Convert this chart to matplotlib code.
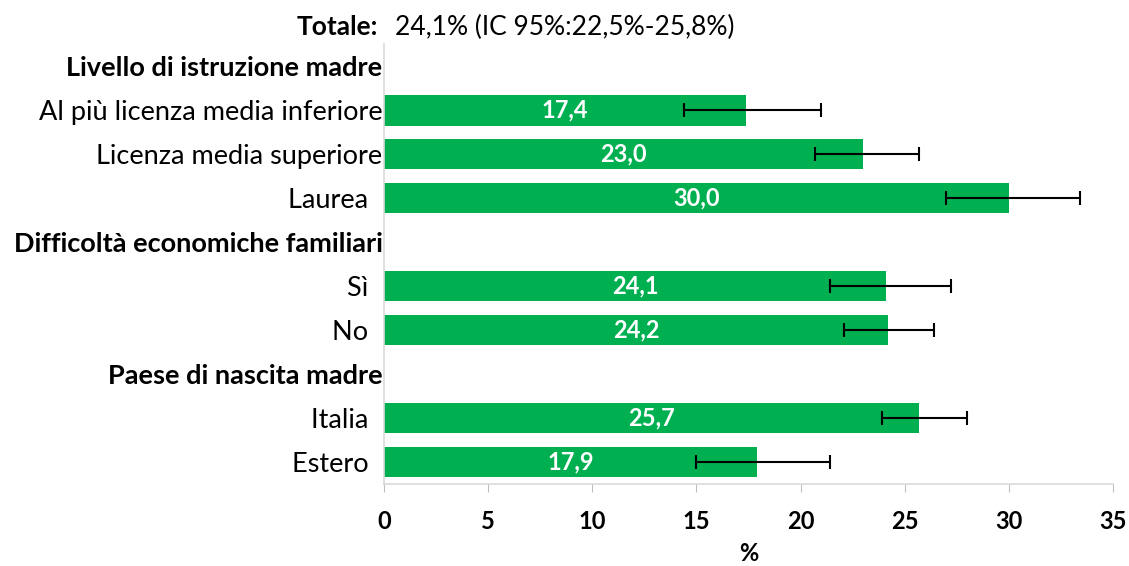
import matplotlib.pyplot as plt
import matplotlib.transforms as mtransforms
import numpy as np

# rows from top to bottom; None marks a group header row
labels = ["Livello di istruzione madre", "Al più licenza media inferiore", "Licenza media superiore", "Laurea  ",
          "Difficoltà economiche familiari", "Sì  ", "No  ",
          "Paese di nascita madre", "Italia  ", "Estero  "]
headers = [True, False, False, False, True, False, False, True, False, False]
values = [None, 17.4, 23.0, 30.0, None, 24.1, 24.2, None, 25.7, 17.9]
ci_low = [None, 14.4, 20.7, 27.0, None, 21.4, 22.1, None, 23.9, 15.0]
ci_high = [None, 21.0, 25.7, 33.4, None, 27.2, 26.4, None, 28.0, 21.4]
xticks = [0, 5, 10, 15, 20, 25, 30, 35]

plt.rcParams['font.family'] = ['Lato', 'DejaVu Sans']
green = '#00B050'

fig = plt.figure(figsize=(11.29, 5.66), dpi=100)
ax = fig.add_axes([0.340, 0.145, 0.646, 0.777])

n = len(labels)
y = np.arange(n)
for i in range(n):
    if values[i] is None:
        continue
    ax.barh(y[i], values[i], height=0.7, color=green, zorder=2)
    ax.errorbar(values[i], y[i],
                xerr=[[values[i] - ci_low[i]], [ci_high[i] - values[i]]],
                fmt='none', ecolor='black', elinewidth=1.5, capsize=5, capthick=1.5, zorder=3)
    ax.text(values[i] / 2, y[i], f"{values[i]:.1f}".replace('.', ','), color='white',
            fontsize=17, fontweight='bold', ha='center', va='center', zorder=4)

ax.set_ylim(n - 0.5, -0.5)
ax.set_xlim(0, 35)
ax.set_yticks(y)
ax.set_yticklabels(labels, fontsize=19.5)
for k, (lab, h) in enumerate(zip(ax.get_yticklabels(), headers)):
    if h:
        lab.set_fontweight('bold')
        lab.set_fontsize(19.5)
        if k == 0:
            lab.set_transform(lab.get_transform() +
                              mtransforms.ScaledTranslation(0, -0.05, fig.dpi_scale_trans))
ax.tick_params(axis='y', length=0, pad=1)
ax.set_xticks(xticks)
ax.set_xticklabels([str(t) for t in xticks], fontsize=17, fontweight='bold')
ax.tick_params(axis='x', length=6, color='#BFBFBF', pad=13)
ax.set_xlabel('%', fontsize=17, fontweight='bold', labelpad=6)

for s in ['top', 'right']:
    ax.spines[s].set_visible(False)
for s in ['bottom', 'left']:
    ax.spines[s].set_color('#D9D9D9')
    ax.spines[s].set_linewidth(1.2)

fig.text(0.335, 0.952, 'Totale:', fontsize=19, fontweight='bold', ha='right', va='center')
fig.text(0.350, 0.952, '24,1% (IC 95%:22,5%-25,8%)', fontsize=19, ha='left', va='center')

fig.savefig('out.png', dpi=100)
